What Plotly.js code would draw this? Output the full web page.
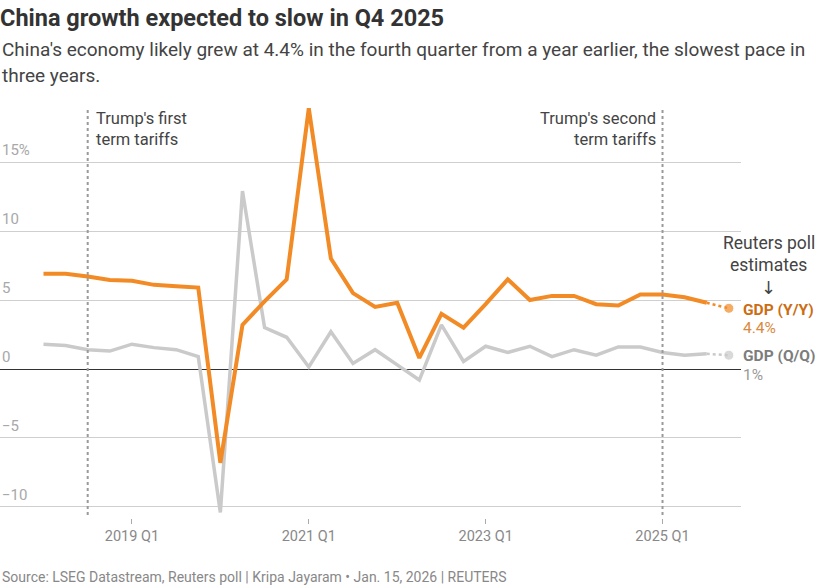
<!DOCTYPE html>
<html>
<head>
<meta charset="utf-8">
<script src="https://cdn.plot.ly/plotly-3.0.1.min.js"></script>
<style>html,body{margin:0;padding:0;background:#fff;}#chart{width:822px;height:587px;}</style>
</head>
<body>
<div id="chart"></div>
<script>
// Quarter labels 2018 Q1 .. 2025 Q4
const quarters = [];
for (let yr = 2018; yr <= 2025; yr++) for (let q = 1; q <= 4; q++) quarters.push(yr + " Q" + q);

// GDP year-on-year growth (%), 2018 Q1 .. 2025 Q3
const gdpYoY = [6.9, 6.9, 6.7, 6.45, 6.4, 6.1, 6.0, 5.9,
                -6.8, 3.2, 4.9, 6.5, 18.9, 8.0, 5.5, 4.5,
                4.8, 0.8, 4.0, 3.0, 4.7, 6.5, 5.0, 5.3,
                5.3, 4.7, 4.6, 5.4, 5.4, 5.2, 4.8];
// GDP quarter-on-quarter growth (%), 2018 Q1 .. 2025 Q3
const gdpQoQ = [1.8, 1.7, 1.4, 1.3, 1.8, 1.55, 1.4, 0.9,
                -10.4, 12.9, 3.0, 2.3, 0.15, 2.7, 0.4, 1.4,
                0.3, -0.8, 3.2, 0.55, 1.65, 1.2, 1.65, 0.9,
                1.4, 1.0, 1.6, 1.6, 1.2, 1.0, 1.1];
// Reuters poll estimates for 2025 Q4
const estYoY = 4.4;
const estQoQ = 1.0;

const yTicks = [-10, -5, 0, 5, 10, 15];
const yTickText = ["\u221210", "\u22125", "0", "5", "10", "15%"];
const xTickVals = ["2019 Q1", "2021 Q1", "2023 Q1", "2025 Q1"];
const tariffMarks = ["2018 Q3", "2025 Q1"];

const idx = q => quarters.indexOf(q);
const nAct = gdpYoY.length;
const xAct = quarters.slice(0, nAct).map((_, i) => i);
const xEst = [nAct - 1, nAct];

const ORANGE = "#f28b25";
const ORANGE_TXT = "#cc6d12";
const GRAY = "#cacaca";
const GRAY_TXT = "#7d7d7d";

// pixel helpers for text placement (plot area: x 0..741, y 100..518)
const W = 741, T = 100, B = 518;
const px = x => x / W;
const py = y => (B - y) / (B - T);

const traces = [
  {x: xAct, y: gdpQoQ, type: "scatter", mode: "lines",
   line: {color: GRAY, width: 3.5}, hoverinfo: "skip"},
  {x: xEst, y: [gdpQoQ[nAct - 1], estQoQ], type: "scatter", mode: "lines+markers",
   line: {color: GRAY, width: 2.5, dash: "dot"},
   marker: {color: GRAY, size: [0, 10]}, hoverinfo: "skip"},
  {x: xAct, y: gdpYoY, type: "scatter", mode: "lines",
   line: {color: ORANGE, width: 4}, hoverinfo: "skip"},
  {x: xEst, y: [gdpYoY[nAct - 1], estYoY], type: "scatter", mode: "lines+markers",
   line: {color: ORANGE, width: 2.5, dash: "dot"},
   marker: {color: ORANGE, size: [0, 10]}, hoverinfo: "skip"}
];

const FONT = "Roboto, 'Noto Sans', sans-serif";

const annotations = [];
yTicks.forEach((v, i) => {
  annotations.push({xref: "paper", yref: "y", x: 0, y: v, xanchor: "left", yanchor: "bottom",
    yshift: 1, text: yTickText[i], showarrow: false,
    font: {family: FONT, size: 15, color: "#a8a8a8"}});
});
annotations.push(
  {xref: "paper", yref: "paper", x: 0, y: py(50), xanchor: "left", yanchor: "middle", showarrow: false,
   text: "China's economy likely grew at 4.4% in the fourth quarter from a year earlier, the slowest pace in",
   font: {family: FONT, size: 19, color: "#444"}},
  {xref: "paper", yref: "paper", x: 0, y: py(76), xanchor: "left", yanchor: "middle", showarrow: false,
   text: "three years.", font: {family: FONT, size: 19, color: "#444"}},
  {xref: "x", yref: "paper", x: idx(tariffMarks[0]), xshift: 6, y: py(118), xanchor: "left", yanchor: "middle",
   showarrow: false, text: "Trump's first", font: {family: FONT, size: 16.5, color: "#444"}},
  {xref: "x", yref: "paper", x: idx(tariffMarks[0]), xshift: 6, y: py(139), xanchor: "left", yanchor: "middle",
   showarrow: false, text: "term tariffs", font: {family: FONT, size: 16.5, color: "#444"}},
  {xref: "x", yref: "paper", x: idx(tariffMarks[1]), xshift: -5, y: py(118), xanchor: "right", yanchor: "middle",
   showarrow: false, text: "Trump's second", font: {family: FONT, size: 16.5, color: "#444"}},
  {xref: "x", yref: "paper", x: idx(tariffMarks[1]), xshift: -5, y: py(139), xanchor: "right", yanchor: "middle",
   showarrow: false, text: "term tariffs", font: {family: FONT, size: 16.5, color: "#444"}},
  {xref: "paper", yref: "paper", x: px(769), y: py(243), xanchor: "center", yanchor: "middle", showarrow: false,
   text: "Reuters poll", font: {family: FONT, size: 17.5, color: "#444"}},
  {xref: "paper", yref: "paper", x: px(769), y: py(265), xanchor: "center", yanchor: "middle", showarrow: false,
   text: "estimates", font: {family: FONT, size: 17.5, color: "#444"}},
  {xref: "paper", yref: "paper", x: px(769), y: py(287), xanchor: "center", yanchor: "middle", showarrow: false,
   text: "\u2193", font: {family: "'DejaVu Sans', sans-serif", size: 18, color: "#444"}},
  {xref: "paper", yref: "paper", x: px(741), y: py(310), xanchor: "left", yanchor: "middle", showarrow: false,
   text: "<b>GDP (Y/Y)</b>", font: {family: FONT, size: 15.5, color: ORANGE_TXT}},
  {xref: "paper", yref: "paper", x: px(741), y: py(328), xanchor: "left", yanchor: "middle", showarrow: false,
   text: estYoY.toFixed(1) + "%", font: {family: FONT, size: 15.5, color: "#d98a40"}},
  {xref: "paper", yref: "paper", x: px(741), y: py(356), xanchor: "left", yanchor: "middle", showarrow: false,
   text: "<b>GDP (Q/Q)</b>", font: {family: FONT, size: 15.5, color: GRAY_TXT}},
  {xref: "paper", yref: "paper", x: px(741), y: py(375), xanchor: "left", yanchor: "middle", showarrow: false,
   text: estQoQ.toFixed(0) + "%", font: {family: FONT, size: 15.5, color: "#9a9a9a"}},
  {xref: "paper", yref: "paper", x: 0, y: py(577), xanchor: "left", yanchor: "middle", showarrow: false,
   text: "Source: LSEG Datastream, Reuters poll | Kripa Jayaram \u2022 Jan. 15, 2026 | REUTERS",
   font: {family: FONT, size: 14, color: "#888"}}
);

const shapes = tariffMarks.map(q => ({
  type: "line", xref: "x", yref: "paper", x0: idx(q), x1: idx(q), y0: py(515), y1: py(110),
  line: {color: "#9a9a9a", width: 2, dash: "dot"}
}));

const layout = {
  width: 822, height: 587,
  margin: {l: 0, r: 822 - W, t: T, b: 587 - B},
  paper_bgcolor: "#fff", plot_bgcolor: "#fff",
  showlegend: false,
  title: {text: "<b>China growth expected to slow in Q4 2025</b>", x: 0, xanchor: "left", xref: "container",
          y: 1 - 18 / 587, yanchor: "middle", yref: "container",
          font: {family: FONT, size: 23.5, color: "#333"}},
  xaxis: {range: [-1.967, 31.55], tickvals: xTickVals.map(idx), ticktext: xTickVals,
          ticks: "outside", ticklen: 5, tickcolor: "#aaa", tickwidth: 1,
          showgrid: false, zeroline: false, showline: false, fixedrange: true,
          tickfont: {family: FONT, size: 14.5, color: "#888"}},
  yaxis: {range: [-10.8, 19.5], tickvals: yTicks, showticklabels: false, ticks: "",
          showgrid: true, gridcolor: "#cfcfcf", gridwidth: 1,
          zeroline: true, zerolinecolor: "#333", zerolinewidth: 1, showline: false, fixedrange: true},
  shapes: shapes,
  annotations: annotations
};

Plotly.newPlot("chart", traces, layout, {displayModeBar: false, staticPlot: true});
</script>
</body>
</html>
